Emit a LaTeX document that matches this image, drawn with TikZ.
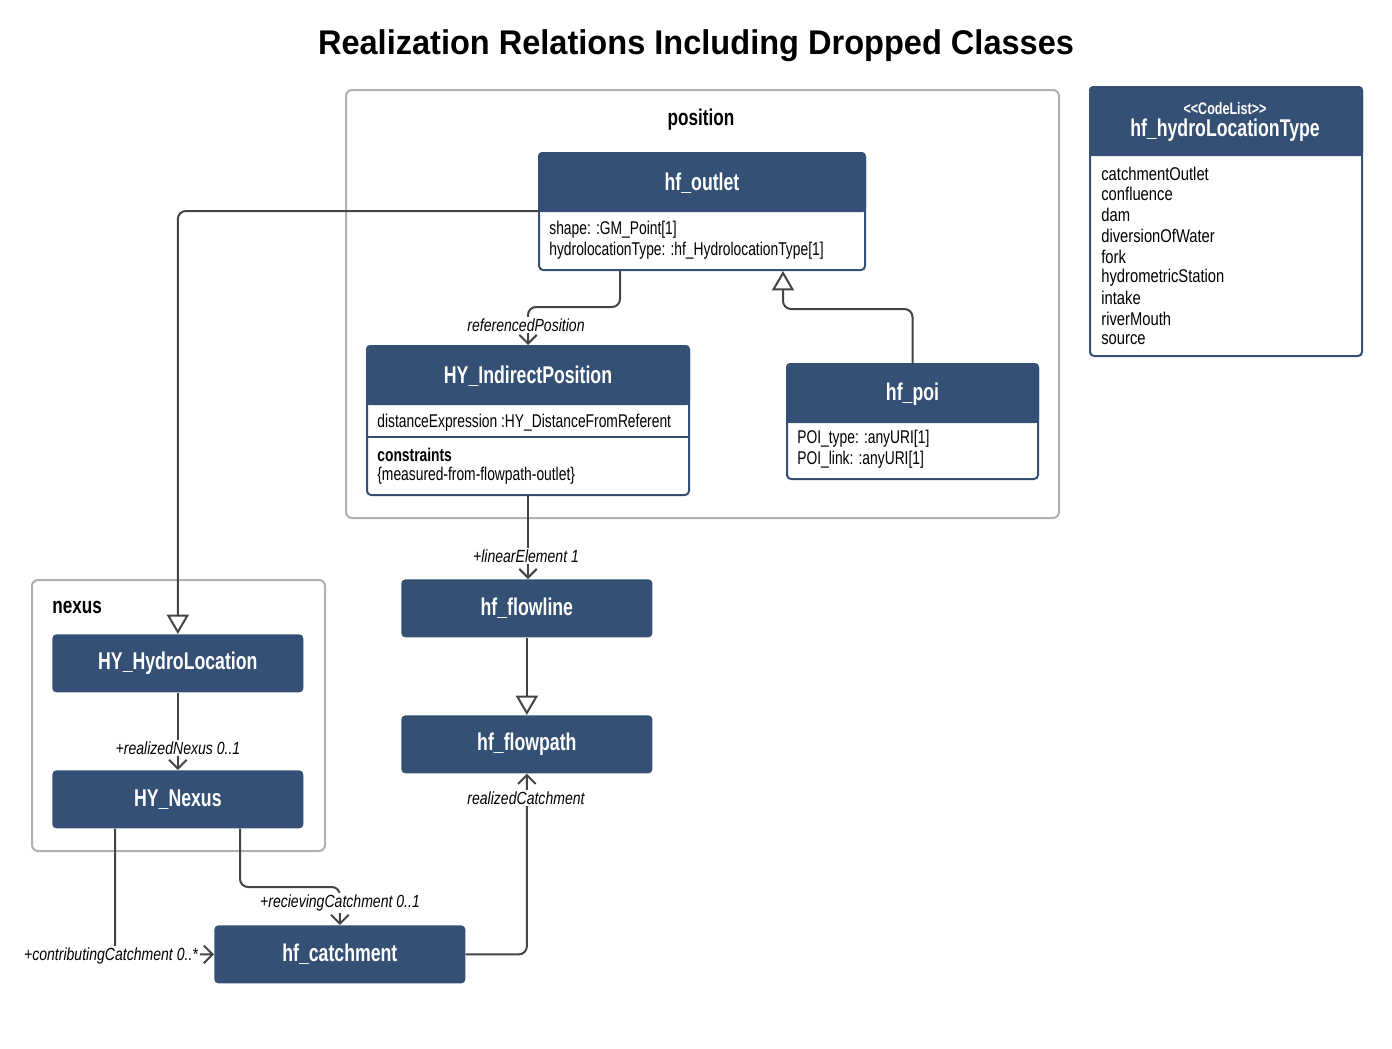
\documentclass[tikz,border=0pt]{standalone}
\usepackage{fontspec}
\setmainfont{Liberation Sans}[FakeStretch=0.75]
\newfontfamily\titlefont{Liberation Sans}[FakeStretch=0.95]
\newfontfamily\lblfont{Liberation Sans}[FakeStretch=0.8]
\newfontfamily\clsfont{Liberation Sans}[FakeStretch=0.73]
\usetikzlibrary{arrows.meta,calc}
\newlength\pu \setlength\pu{0.02cm}
\definecolor{hdr}{RGB}{52,80,117}
\definecolor{pkg}{RGB}{176,176,176}
\definecolor{conn}{RGB}{68,68,68}
\begin{document}
\begin{tikzpicture}[x=0.02cm,y=-0.02cm,
  simple/.style={fill=hdr, rounded corners=4\pu, minimum width=251\pu, minimum height=58\pu, inner sep=0pt, text=white, font=\clsfont\bfseries\fontsize{13.8}{16}\selectfont},
  frame/.style={draw=hdr, line width=2\pu, rounded corners=4\pu, fill=white, inner sep=0pt, anchor=north west},
  pkgbox/.style={draw=pkg, line width=2\pu, rounded corners=6\pu, inner sep=0pt, anchor=north west},
  pkglbl/.style={font=\bfseries\fontsize{13}{15}\selectfont, inner sep=0pt},
  ttl/.style={text=white, inner sep=0pt, font=\clsfont\bfseries\fontsize{13.8}{16}\selectfont},
  attr/.style={anchor=west, inner sep=0pt, font=\fontsize{10.5}{12.6}\selectfont},
  lbl/.style={fill=white, inner sep=1pt, font=\lblfont\itshape\fontsize{10}{11.5}\selectfont},
  conn/.style={draw=conn, line width=2\pu, rounded corners=8\pu},
  assoc/.style={conn, -{Straight Barb[length=5pt,width=10pt]}},
  gen/.style={conn, -{Triangle[open,length=11pt,width=12.5pt,fill=white]}}
]
\useasboundingbox (0,0) rectangle (1392,1048);
\fill[white] (0,0) rectangle (1392,1048);

% title
\node[font=\titlefont\bfseries\fontsize{19.5}{23}\selectfont] (title) at (696,46) {Realization Relations Including Dropped Classes};

% packages
\node[pkgbox, minimum width=713\pu, minimum height=428\pu] (positionpkg) at (345,89) {};
\node[pkglbl] (positionlbl) at (701,120) {position};
\node[pkgbox, minimum width=293\pu, minimum height=271\pu] (nexuspkg) at (31,579) {};
\node[pkglbl, anchor=west] (nexuslbl) at (52,607) {nexus};

% hf_outlet
\node[frame, minimum width=326\pu, minimum height=117\pu] (outlet) at (538,152) {};
\fill[hdr, rounded corners=4\pu] (outlet.north west) rectangle ($(outlet.north east)+(0,60)$);
\fill[hdr] ($(outlet.north west)+(0,10)$) rectangle ($(outlet.north east)+(0,60)$);
\node[ttl] (outletname) at ($(outlet.north)+(0,31)$) {hf\_outlet};
\node[attr] (outleta1) at (549,230) {shape: :GM\_Point[1]};
\node[attr] (outleta2) at (549,251) {hydrolocationType: :hf\_HydrolocationType[1]};

% HY_IndirectPosition
\node[frame, minimum width=322\pu, minimum height=149\pu] (indirect) at (366,345) {};
\fill[hdr, rounded corners=4\pu] (indirect.north west) rectangle ($(indirect.north east)+(0,60)$);
\fill[hdr] ($(indirect.north west)+(0,10)$) rectangle ($(indirect.north east)+(0,60)$);
\draw[hdr, line width=2\pu] ($(indirect.north west)+(0,92)$) -- ($(indirect.north east)+(0,92)$);
\node[ttl] (indirectname) at ($(indirect.north)+(0,31)$) {HY\_IndirectPosition};
\node[attr] (indirecta1) at (377,423) {distanceExpression :HY\_DistanceFromReferent};
\node[attr, font=\bfseries\fontsize{10.5}{12.6}\selectfont] (indirectc) at (377,455) {constraints};
\node[attr] (indirectc1) at (377,476) {\{measured-from-flowpath-outlet\}};

% hf_poi
\node[frame, minimum width=251\pu, minimum height=115\pu] (poi) at (786,363) {};
\fill[hdr, rounded corners=4\pu] (poi.north west) rectangle ($(poi.north east)+(0,60)$);
\fill[hdr] ($(poi.north west)+(0,10)$) rectangle ($(poi.north east)+(0,60)$);
\node[ttl] (poiname) at ($(poi.north)+(0,31)$) {hf\_poi};
\node[attr] (poia1) at (797,439) {POI\_type: :anyURI[1]};
\node[attr] (poia2) at (797,460) {POI\_link: :anyURI[1]};

% codelist
\node[frame, minimum width=272\pu, minimum height=269\pu] (codelist) at (1089,86) {};
\fill[hdr, rounded corners=4\pu] (codelist.north west) rectangle ($(codelist.north east)+(0,70)$);
\fill[hdr] ($(codelist.north west)+(0,10)$) rectangle ($(codelist.north east)+(0,70)$);
\node[text=white, inner sep=0pt, font=\bfseries\fontsize{9.5}{11}\selectfont] (codelistst) at (1225,109) {<{}<CodeList>{}>};
\node[ttl] (codelistname) at (1225,130) {hf\_hydroLocationType};
\foreach \t [count=\i from 0] in {catchmentOutlet,confluence,dam,diversionOfWater,fork,hydrometricStation,intake,riverMouth,source}
  \node[attr, font=\lblfont\fontsize{10.5}{12.6}\selectfont] (cl\i) at (1101,{173.5+20.8*\i}) {\t};

% simple classes
\node[simple, anchor=north west] (hydroloc) at (52,634) {HY\_HydroLocation};
\node[simple, anchor=north west] (nexus) at (52,770) {HY\_Nexus};
\node[simple, anchor=north west] (flowline) at (401,579) {hf\_flowline};
\node[simple, anchor=north west] (flowpath) at (401,715) {hf\_flowpath};
\node[simple, anchor=north west] (catch) at (214,925) {hf\_catchment};

% connectors
\draw[gen] ($(outlet.north west)+(0,59)$) -| (hydroloc.north);
\draw[assoc] ($(outlet.south west)+(82,0)$) |- ($(indirect.north)+(0,-38)$) -- (indirect.north);
\node[lbl] (refposlbl) at (526,325) {referencedPosition};
\draw[gen] (poi.north) |- ($(outlet.south west)+(245,38)$) -- ($(outlet.south west)+(245,0)$);
\draw[assoc] (indirect.south) -- (indirect.south |- flowline.north);
\node[lbl] (linlbl) at (526,556) {+linearElement 1};
\draw[gen] (flowline) -- (flowpath);
\draw[assoc] (hydroloc) -- (nexus);
\node[lbl] (realnexlbl) at (178,748) {+realizedNexus 0..1};
\draw[assoc] ($(nexus.south west)+(188,0)$) |- ($(catch.north)+(0,-38)$) -- (catch.north);
\node[lbl] (reclbl) at (340,903) {+recievingCatchment 0..1};
\draw[assoc] ($(nexus.south west)+(63,0)$) |- (catch.west);
\node[lbl] (contlbl) at (111,956) {+contributingCatchment 0..*};
\draw[assoc] (catch.east) -| (flowpath.south);
\node[lbl] (realcatlbl) at (526,798) {realizedCatchment};
\end{tikzpicture}
\end{document}
